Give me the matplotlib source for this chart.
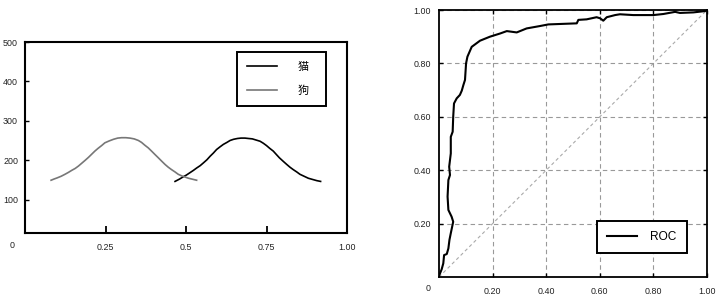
import matplotlib
matplotlib.use('Agg')
import matplotlib.pyplot as plt

plt.rcParams['font.family'] = ['Liberation Sans', 'Noto Sans CJK SC', 'DejaVu Sans']

# ---- data ----
series_names = ['猫', '狗']
cat_x = [0.466, 0.480, 0.490, 0.501, 0.512, 0.523, 0.533, 0.544, 0.554, 0.565, 0.575,
         0.585, 0.595, 0.606, 0.616, 0.627, 0.637, 0.648, 0.660, 0.671, 0.683,
         0.694, 0.706, 0.718, 0.730, 0.740, 0.750, 0.760, 0.771, 0.781, 0.790,
         0.802, 0.813, 0.823, 0.833, 0.844, 0.854, 0.867, 0.880, 0.893, 0.906, 0.918]
cat_y = [146, 152, 157, 162, 168, 174, 180, 186, 193, 201, 210,
         218, 227, 234, 240, 245, 250, 253, 255, 256, 256,
         255, 254, 251, 248, 243, 237, 230, 223, 214, 206,
         197, 189, 182, 176, 170, 164, 159, 154, 151, 148, 146]
dog_x = [0.081, 0.090, 0.100, 0.112, 0.124, 0.135, 0.145, 0.156, 0.166, 0.176, 0.186,
         0.197, 0.207, 0.217, 0.227, 0.238, 0.248, 0.262, 0.275, 0.288, 0.300,
         0.313, 0.326, 0.339, 0.352, 0.362, 0.372, 0.383, 0.393, 0.404, 0.414,
         0.425, 0.435, 0.445, 0.455, 0.466, 0.476, 0.487, 0.497, 0.508, 0.518, 0.533]
dog_y = [149, 152, 155, 159, 164, 169, 174, 179, 185, 192, 199,
         207, 215, 223, 230, 237, 244, 249, 253, 256, 257,
         257, 256, 254, 250, 245, 238, 231, 223, 214, 206,
         197, 189, 182, 176, 170, 164, 160, 157, 154, 152, 149]

roc_fpr = [0.000, 0.010, 0.016, 0.019, 0.029, 0.035, 0.039, 0.044, 0.053, 0.047,
           0.035, 0.032, 0.035, 0.041, 0.038, 0.044, 0.044, 0.051, 0.053, 0.056,
           0.066, 0.078, 0.085, 0.091, 0.097, 0.101, 0.106, 0.122, 0.153, 0.190,
           0.228, 0.253, 0.290, 0.327, 0.377, 0.408, 0.514, 0.520, 0.551, 0.588,
           0.601, 0.613, 0.626, 0.657, 0.675, 0.725, 0.800, 0.837, 0.881, 0.899,
           0.949, 0.993, 1.000]
roc_tpr = [0.004, 0.029, 0.051, 0.082, 0.086, 0.107, 0.139, 0.164, 0.207, 0.226,
           0.251, 0.301, 0.363, 0.382, 0.413, 0.463, 0.525, 0.544, 0.600, 0.650,
           0.669, 0.682, 0.698, 0.719, 0.738, 0.800, 0.825, 0.862, 0.885, 0.900,
           0.912, 0.921, 0.916, 0.931, 0.940, 0.946, 0.950, 0.963, 0.965, 0.973,
           0.969, 0.960, 0.973, 0.981, 0.984, 0.981, 0.981, 0.985, 0.993, 0.989,
           0.991, 0.996, 1.000]
roc_label = 'ROC'

left_xticks = [0.25, 0.5, 0.75, 1.0]
left_xticklabels = ['0.25', '0.5', '0.75', '1.00']
left_yticks = [100, 200, 300, 400, 500]
left_yticklabels = ['100', '200', '300', '400', '500']
right_ticks = [0.2, 0.4, 0.6, 0.8, 1.0]
right_ticklabels = ['0.20', '0.40', '0.60', '0.80', '1.00']
origin_label = '0'

# ---- figure ----
W, H = 720, 298
fig = plt.figure(figsize=(W / 100, H / 100), dpi=100)

tick_color = '#222222'
fs_tick = 6.4

# Left panel
ax1 = fig.add_axes([25 / W, (H - 233) / H, 322 / W, 191 / H])
ax1.plot(cat_x, cat_y, color='black', lw=1.2, label=series_names[0])
ax1.plot(dog_x, dog_y, color='#777777', lw=1.2, label=series_names[1])
ax1.set_xlim(0, 1)
ax1.set_ylim(15, 500)
ax1.set_xticks(left_xticks)
ax1.set_xticklabels(left_xticklabels)
ax1.set_yticks(left_yticks)
ax1.set_yticklabels(left_yticklabels)
ax1.tick_params(axis='x', direction='in', length=5, width=1.3, pad=7,
                labelsize=fs_tick, labelcolor=tick_color, color='black')
ax1.tick_params(axis='y', direction='in', length=3, width=1.0, pad=5,
                labelsize=fs_tick, labelcolor=tick_color, color='black')
for s in ax1.spines.values():
    s.set_linewidth(1.5)
ax1.annotate(origin_label, xy=(0, 0), xycoords='axes fraction',
             xytext=(-9, -9), textcoords='offset points',
             ha='center', va='center', fontsize=fs_tick, color=tick_color)
leg1 = ax1.legend(loc='upper left', bbox_to_anchor=(0.657, 0.658, 0.278, 0.29),
                  mode='expand', fontsize=8, handlelength=2.7, handletextpad=1.9,
                  labelspacing=1.25, borderpad=0.9, borderaxespad=0,
                  fancybox=False, framealpha=1, edgecolor='black')
leg1.get_frame().set_linewidth(1.4)

# Right panel
ax2 = fig.add_axes([439 / W, (H - 277) / H, 268 / W, 267 / H])
ax2.plot([0, 1], [0, 1], color='#aaaaaa', lw=0.8, ls=(0, (3, 2.5)), zorder=1)
ax2.plot(roc_fpr, roc_tpr, color='black', lw=1.5, label=roc_label, zorder=3)
ax2.set_xlim(0, 1)
ax2.set_ylim(0, 1)
ax2.set_xticks(right_ticks)
ax2.set_xticklabels(right_ticklabels)
ax2.set_yticks(right_ticks)
ax2.set_yticklabels(right_ticklabels)
ax2.grid(True, color='#999999', lw=0.8, ls=(0, (4, 3)))
ax2.tick_params(axis='both', direction='in', length=3, width=1.0,
                top=True, right=True, labelsize=fs_tick, labelcolor=tick_color,
                color='black')
ax2.tick_params(axis='x', pad=7)
ax2.tick_params(axis='y', pad=6)
for s in ax2.spines.values():
    s.set_linewidth(1.3)
ax2.annotate(origin_label, xy=(0, 0), xycoords='axes fraction',
             xytext=(-8, -8), textcoords='offset points',
             ha='center', va='center', fontsize=fs_tick, color=tick_color)
leg2 = ax2.legend(loc='upper left', bbox_to_anchor=(0.591, 0.094, 0.333, 0.116),
                  mode='expand', fontsize=8.6, handlelength=2.5, handletextpad=1.1,
                  borderpad=0.82, borderaxespad=0,
                  fancybox=False, framealpha=1, edgecolor='black')
leg2.get_frame().set_linewidth(1.4)

fig.savefig('out.png', dpi=100)
